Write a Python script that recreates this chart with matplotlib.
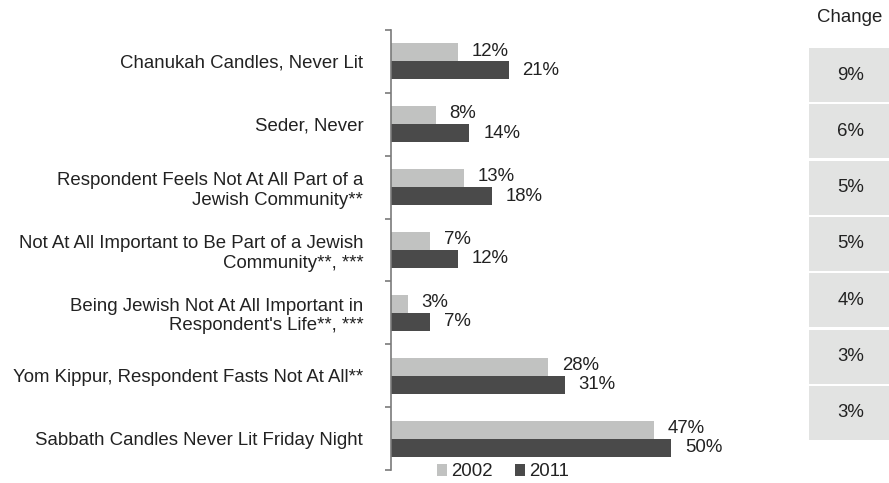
import matplotlib.pyplot as plt
from matplotlib.patches import Patch

plt.rcParams['font.family'] = ['Liberation Sans', 'DejaVu Sans']

categories = [
    "Chanukah Candles, Never Lit",
    "Seder, Never",
    "Respondent Feels Not At All Part of a\nJewish Community**",
    "Not At All Important to Be Part of a Jewish\nCommunity**, ***",
    "Being Jewish Not At All Important in\nRespondent's Life**, ***",
    "Yom Kippur, Respondent Fasts Not At All**",
    "Sabbath Candles Never Lit Friday Night",
]
vals_2002 = [12, 8, 13, 7, 3, 28, 47]
vals_2011 = [21, 14, 18, 12, 7, 31, 50]
changes = ["9%", "6%", "5%", "5%", "4%", "3%", "3%"]

c2002 = '#c1c2c1'
c2011 = '#4a4a4a'
txt = '#222222'
fs = 13.4

W, H = 889, 483
fig = plt.figure(figsize=(W / 100, H / 100), dpi=100)

# main bar axes, placed in pixel terms
x0, x1 = 391, 727
y_top, y_bot = 30, 470
ax = fig.add_axes([x0 / W, 1 - y_bot / H, (x1 - x0) / W, (y_bot - y_top) / H])

n = len(categories)
pos = list(range(n))
bh = 0.286
ax.barh([p - bh / 2 for p in pos], vals_2002, height=bh, color=c2002, label='2002')
ax.barh([p + bh / 2 for p in pos], vals_2011, height=bh, color=c2011, label='2011')

for p, v in zip(pos, vals_2002):
    ax.annotate(f"{v}%", (v, p - bh / 2), xytext=(10, 1), textcoords='offset points',
                va='center', ha='left', fontsize=fs, color=txt)
for p, v in zip(pos, vals_2011):
    ax.annotate(f"{v}%", (v, p + bh / 2), xytext=(10, 0), textcoords='offset points',
                va='center', ha='left', fontsize=fs, color=txt)

ax.set_xlim(0, 60)
ax.set_ylim(n - 0.5, -0.5)
ax.set_yticks(pos)
ax.set_yticklabels(categories, fontsize=fs, color=txt, ha='right')
ax.set_yticks([p - 0.5 for p in range(n + 1)], minor=True)
ax.tick_params(axis='y', which='major', length=0, pad=20)
ax.tick_params(axis='y', which='minor', length=4, width=1.2, color='#7a7a7a')
ax.set_xticks([])
for s in ['top', 'right', 'bottom']:
    ax.spines[s].set_visible(False)
ax.spines['left'].set_color('#7a7a7a')
ax.spines['left'].set_linewidth(1.2)

# change column
cx0 = 809
cy_top, cy_bot = 47, 441
ax2 = fig.add_axes([cx0 / W, 1 - cy_bot / H, (W - cx0) / W, (cy_bot - cy_top) / H])
ax2.barh(pos, [1] * n, left=0, height=0.96, color='#e2e3e2')
for p, c in zip(pos, changes):
    ax2.text(0.52, p, c, ha='center', va='center', fontsize=fs, color=txt)
ax2.set_xlim(0, 1)
ax2.set_ylim(n - 0.5, -0.5)
ax2.axis('off')
fig.text(850 / W, 1 - 17 / H, "Change", ha='center', va='center', fontsize=fs, color=txt)

handles = [Patch(facecolor=c2002, label='2002'), Patch(facecolor=c2011, label='2011')]
fig.legend(handles=handles, loc='center', bbox_to_anchor=(503 / W, 1 - 472 / H), ncol=2,
           frameon=False, fontsize=fs, handlelength=0.55, handleheight=0.55,
           handletextpad=0.2, columnspacing=1.2, borderpad=0, labelcolor=txt)

fig.savefig('out.png', dpi=100)
